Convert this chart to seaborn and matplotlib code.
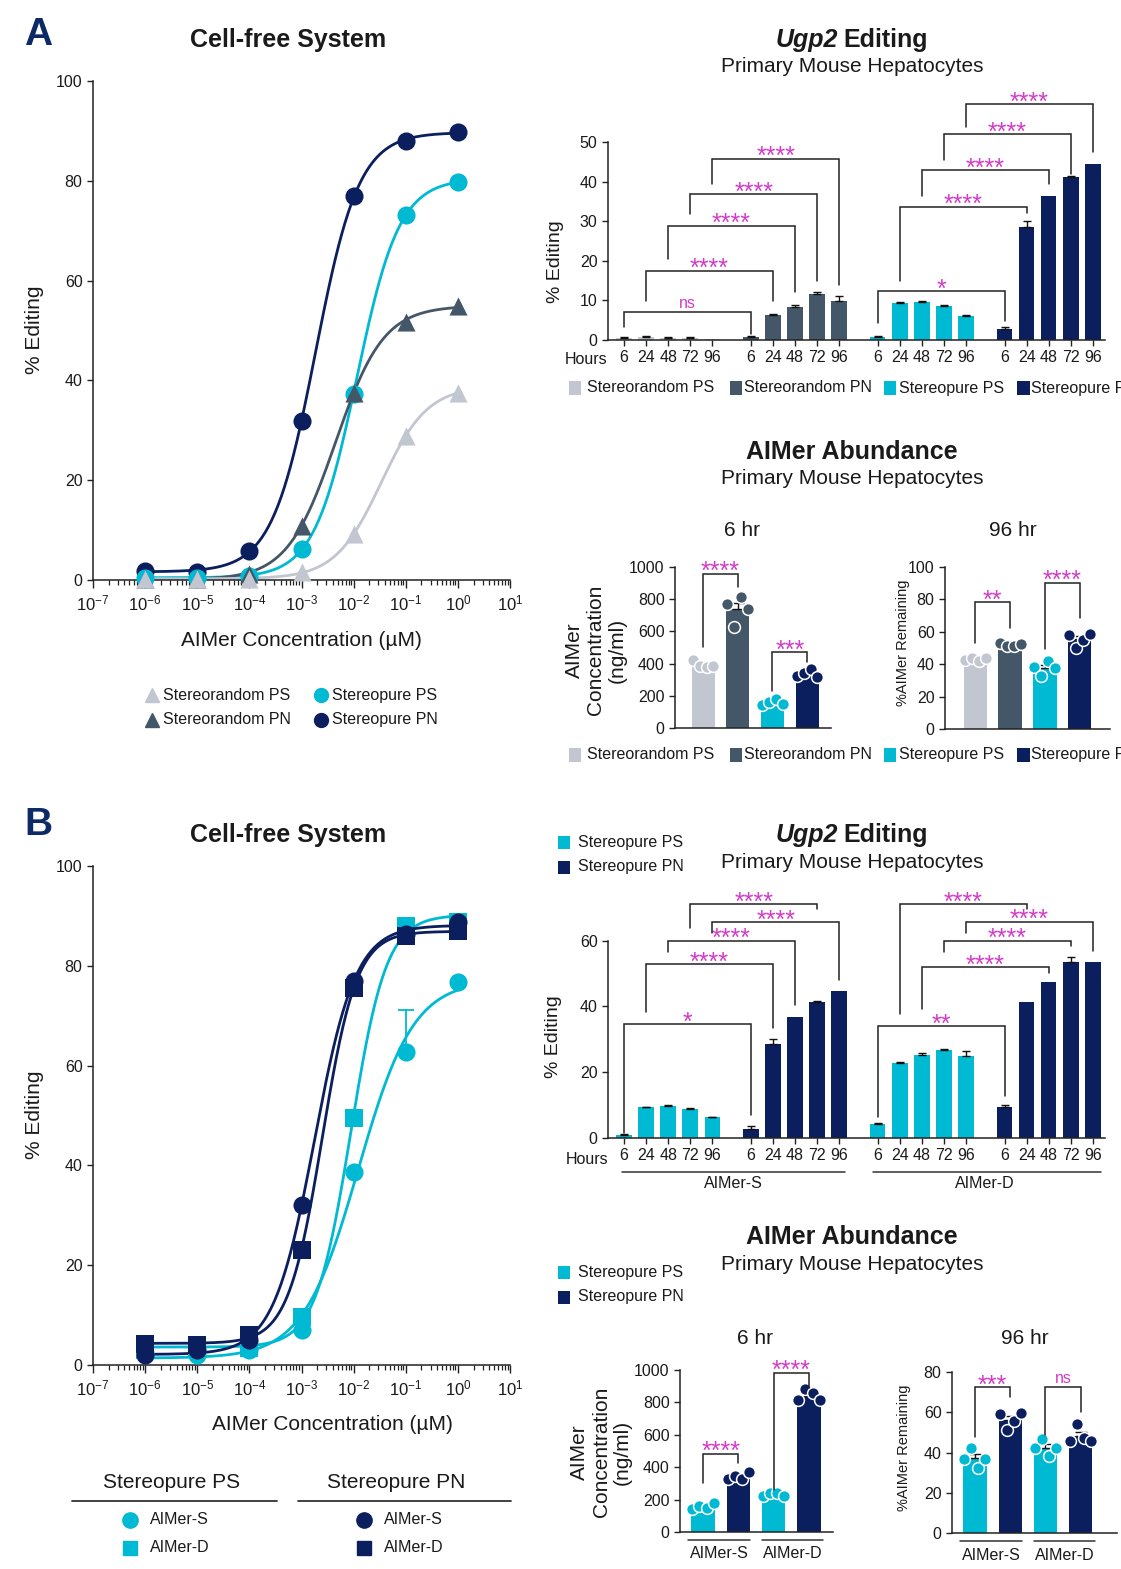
import warnings
import numpy as np
import pandas as pd
import matplotlib
matplotlib.use('Agg')
import matplotlib.pyplot as plt
import seaborn as sns
from matplotlib.lines import Line2D
from matplotlib.patches import Rectangle
from matplotlib.ticker import LogLocator, NullFormatter

warnings.filterwarnings('ignore')

# --- 1. Data ---
# Cell-free dose response (% editing), concentrations in uM
conc = [1e-6, 1e-5, 1e-4, 1e-3, 1e-2, 1e-1, 1e0]
a_sr_ps = [0.2, 0.2, 0.3, 1.6, 9.2, 28.9, 37.5]
a_sr_pn = [0.3, 0.3, 1.2, 10.9, 37.5, 51.7, 55.0]
a_sp_ps = [0.5, 0.5, 0.9, 6.2, 37.3, 73.2, 79.7]
a_sp_pn = [1.9, 1.6, 5.8, 31.9, 76.9, 87.9, 89.7]

b_ps_s = [2.5, 2.0, 3.0, 7.0, 38.6, 62.7, 76.8]
b_ps_s_err = [0, 0, 0, 0, 0, 8.4, 0]
b_ps_d = [3.0, 3.7, 3.5, 9.7, 49.5, 88.0, 88.7]
b_pn_s = [2.0, 3.0, 5.0, 32.1, 77.0, 86.3, 88.7]
b_pn_d = [4.3, 4.0, 6.0, 23.1, 75.6, 86.0, 87.0]

# Ugp2 editing time course (% editing, mean and SEM)
hours = ['6', '24', '48', '72', '96']
ugp_a_sr_ps = [0.6, 0.8, 0.6, 0.6, 0.25]
ugp_a_sr_ps_sem = [0.1, 0.1, 0.1, 0.1, 0.0]
ugp_a_sr_pn = [0.7, 6.2, 8.3, 11.7, 9.9]
ugp_a_sr_pn_sem = [0.2, 0.3, 0.5, 0.5, 1.3]
ugp_a_sp_ps = [0.85, 9.4, 9.7, 8.7, 6.1]
ugp_a_sp_ps_sem = [0.15, 0.15, 0.15, 0.15, 0.2]
ugp_a_sp_pn = [2.9, 28.6, 36.4, 41.2, 44.5]
ugp_a_sp_pn_sem = [0.5, 1.4, 0.0, 0.3, 0.0]

ugp_b_s_ps = [1.0, 9.4, 9.8, 8.9, 6.3]
ugp_b_s_ps_sem = [0.1, 0.15, 0.2, 0.2, 0.2]
ugp_b_s_pn = [2.7, 28.6, 36.7, 41.4, 44.7]
ugp_b_s_pn_sem = [0.8, 1.5, 0.0, 0.2, 0.0]
ugp_b_d_ps = [4.4, 22.8, 25.3, 26.8, 25.0]
ugp_b_d_ps_sem = [0.3, 0.4, 0.6, 0.2, 1.5]
ugp_b_d_pn = [9.4, 41.3, 47.4, 53.4, 53.4]
ugp_b_d_pn_sem = [0.7, 0.0, 0.0, 1.7, 0.0]

# AIMer abundance replicates (left to right as plotted)
ab_a_6 = {'SR PS': [425, 385, 380, 388], 'SR PN': [769, 629, 814, 740],
          'SP PS': [145, 160, 178, 148], 'SP PN': [325, 340, 365, 320]}
ab_a_96 = {'SR PS': [42.5, 44.1, 42.1, 44.1], 'SR PN': [53.0, 51.1, 51.1, 52.8],
           'SP PS': [38.0, 32.6, 42.1, 37.4], 'SP PN': [58.3, 50.3, 55.2, 58.9]}
ab_b_6 = {'S PS': [140, 162, 148, 180], 'S PN': [328, 343, 326, 368],
          'D PS': [225, 240, 240, 225], 'D PN': [812, 884, 859, 812]}
ab_b_96 = {'S PS': [36.9, 42.2, 32.5, 36.9], 'S PN': [58.9, 51.0, 55.5, 59.6],
           'D PS': [42.4, 46.5, 38.2, 42.4], 'D PN': [45.5, 54.3, 47.4, 45.5]}

# significance brackets: (x1, x2, line y, left leg end, right leg end, label)
br_ugp_a = [(0, 5.75, 7.0, 3.4, 1.6, 'ns'), (1, 6.75, 17.5, 9.9, 9.9, '****'),
            (2, 7.75, 28.9, 20.4, 12.1, '****'), (3, 8.75, 36.8, 31.8, 14.8, '****'),
            (4, 9.75, 45.8, 39.5, 13.9, '****'), (11.5, 17.25, 12.4, 4.4, 4.9, '*'),
            (12.5, 18.25, 33.7, 15.0, 32.0, '****'), (13.5, 19.25, 42.8, 36.4, 39.4, '****'),
            (14.5, 20.25, 52.0, 45.5, 41.9, '****'), (15.5, 21.25, 59.5, 53.8, 47.4, '****')]
br_ugp_b = [(0, 5.75, 34.7, 1.5, 6.9, '*'), (1, 6.75, 52.9, 38.2, 33.4, '****'),
            (2, 7.75, 60.0, 56.4, 40.3, '****'), (4, 9.75, 65.6, 62.2, 48.1, '****'),
            (3, 8.75, 71.1, 63.8, 69.5, '****'), (11.5, 17.25, 34.0, 6.3, 12.9, '**'),
            (13.5, 19.25, 52.0, 39.3, 50.1, '****'), (14.5, 20.25, 60.0, 56.5, 58.5, '****'),
            (15.5, 21.25, 65.8, 62.2, 56.9, '****'), (12.5, 18.25, 71.1, 37.7, 69.5, '****')]
br_a_6 = [(0, 1, 959, 505, 876, '****'), (2, 3, 470, 227, 412, '***')]
br_a_96 = [(0, 1, 78.4, 53.2, 62.4, '**'), (2, 3, 90.3, 49.7, 68.8, '****')]
br_b_6 = [(0, 1, 483, 302, 426, '****'), (2, 3, 983, 260, 890, '****')]
br_b_96 = [(0, 1, 72.5, 47.7, 67.5, '***'), (2, 3, 72.5, 48.5, 60.1, 'ns')]

# --- 2. Style ---
C_SRPS = '#C1C6D1'
C_SRPN = '#445768'
C_SPPS = '#00B9D3'
C_SPPN = '#0B1F5F'
MAG = '#D23CC8'
INK = '#1a1a1a'

sns.set_theme(style='ticks')
plt.rcParams['font.family'] = ['Liberation Sans', 'DejaVu Sans']
plt.rcParams['mathtext.fontset'] = 'custom'
plt.rcParams['mathtext.rm'] = 'Liberation Sans'
plt.rcParams['mathtext.it'] = 'Liberation Sans:italic'
plt.rcParams['mathtext.bf'] = 'Liberation Sans:bold'

W, H = 1121, 1569
fig = plt.figure(figsize=(W / 100, H / 100), dpi=100)


def rect(x0, yt, x1, yb):
    return [x0 / W, 1 - yb / H, (x1 - x0) / W, (yb - yt) / H]


def ftext(x, y, s, **kw):
    kw.setdefault('ha', 'center')
    kw.setdefault('va', 'center')
    kw.setdefault('color', INK)
    return fig.text(x / W, 1 - y / H, s, **kw)


def fline(x0, x1, y, lw=1.3):
    fig.add_artist(Line2D([x0 / W, x1 / W], [1 - y / H] * 2, transform=fig.transFigure,
                          color='#333333', lw=lw))


def fmarker(x, y, marker, color, ms):
    fig.add_artist(Line2D([x / W], [1 - y / H], marker=marker, ms=ms, color=color, ls='none',
                          mec=color, transform=fig.transFigure))


def fsquare(x, y, color, size=13):
    fig.add_artist(Rectangle(((x - size / 2) / W, 1 - (y + size / 2) / H), size / W, size / H,
                             transform=fig.transFigure, color=color, lw=0))


def style_axes(ax, ybound=None):
    sns.despine(ax=ax)
    for s in ['left', 'bottom']:
        ax.spines[s].set_linewidth(1.1)
        ax.spines[s].set_color('#222222')
    if ybound is not None:
        ax.spines['left'].set_bounds(*ybound)
    ax.tick_params(axis='both', colors='#222222', labelcolor=INK, labelsize=11.5,
                   length=4, width=1)
    ax.set_xlabel('')
    ax.set_ylabel('')


def bracket(ax, x1, x2, y, y1, y2, label):
    ax.plot([x1, x1, x2, x2], [y1, y, y, y2], color='#222222', lw=1.1, clip_on=False,
            solid_joinstyle='miter', zorder=5)
    if label == 'ns':
        ax.annotate(label, xy=((x1 + x2) / 2, y), xytext=(0, 3), textcoords='offset points',
                    ha='center', va='baseline', color=MAG, fontsize=11.5, annotation_clip=False)
    else:
        ax.annotate(label, xy=((x1 + x2) / 2, y), xytext=(0, -4), textcoords='offset points',
                    ha='center', va='baseline', color=MAG, fontsize=18, annotation_clip=False)


def fit_4pl(x, y):
    lx = np.log10(np.asarray(x, float))
    y = np.asarray(y, float)
    ec = np.arange(-5.0, 1.0, 0.01)[:, None, None]
    hs = np.arange(0.3, 3.0, 0.02)[None, :, None]
    s = 1.0 / (1.0 + 10 ** ((ec - lx) * hs))
    u = 1 - s
    a11 = (u * u).sum(-1)
    a12 = (u * s).sum(-1)
    a22 = (s * s).sum(-1)
    r1 = (u * y).sum(-1)
    r2 = (s * y).sum(-1)
    det = a11 * a22 - a12 ** 2
    bot = (a22 * r1 - a12 * r2) / det
    top = (a11 * r2 - a12 * r1) / det
    sse = ((y - bot[..., None] * u - top[..., None] * s) ** 2).sum(-1)
    i, j = np.unravel_index(np.nanargmin(sse), sse.shape)
    return bot[i, j], top[i, j], ec[i, 0, 0], hs[0, j, 0]


xs = np.logspace(-6, 0, 300)


def dose_panel(ax, series):
    for vals, color, marker, err in series:
        b, t, e, h = fit_4pl(conc, vals)
        ys = b + (t - b) / (1 + 10 ** ((e - np.log10(xs)) * h))
        sns.lineplot(x=xs, y=ys, color=color, lw=2, ax=ax, legend=False)
        if err is not None:
            ax.errorbar(conc, vals, yerr=[np.zeros(len(err)), err], fmt='none', ecolor=color,
                        elinewidth=1.3, capsize=6, capthick=1.3, zorder=3)
        sns.scatterplot(x=conc, y=vals, color=color, marker=marker, s=170, linewidth=0,
                        ax=ax, legend=False, clip_on=False, zorder=4)
    ax.set_xscale('log')
    ax.set_xlim(1e-7, 1e1)
    ax.set_ylim(0, 100)
    ax.set_xticks([10.0 ** k for k in range(-7, 2)])
    ax.set_xticklabels([f'$10^{{{k}}}$' for k in range(-7, 2)])
    ax.xaxis.set_minor_locator(LogLocator(base=10, subs=np.arange(2, 10), numticks=20))
    ax.xaxis.set_minor_formatter(NullFormatter())
    ax.set_yticks([0, 20, 40, 60, 80, 100])
    style_axes(ax)
    ax.tick_params(axis='x', which='major', length=6, labelsize=12, pad=4)
    ax.tick_params(axis='x', which='minor', length=3.5, width=0.9, colors='#222222')


def ugp_panel(ax, groups, brackets, ytop, ybound, yticks):
    rows = []
    for g, (vals, sems, color) in enumerate(groups):
        for i, (v, s) in enumerate(zip(vals, sems)):
            rows.append({'pos': g * 5.75 + i, 'value': v, 'sem': s, 'series': color})
    df = pd.DataFrame(rows)
    sns.barplot(data=df, x='pos', y='value', hue='series', palette={c: c for c in df['series']},
                native_scale=True, dodge=False, width=0.7, errorbar=None, saturation=1,
                linewidth=0, legend=False, ax=ax)
    e = df[df['sem'] > 0]
    ax.errorbar(e['pos'], e['value'], yerr=[np.zeros(len(e)), e['sem']], fmt='none',
                ecolor='#111111', elinewidth=1, capsize=3, capthick=1, zorder=3)
    for br in brackets:
        bracket(ax, *br)
    ax.set_xlim(-0.725, 21.8)
    ax.set_ylim(0, ytop)
    ax.set_yticks(yticks)
    ax.set_xticks(df['pos'])
    ax.set_xticklabels(hours * 4)
    style_axes(ax, ybound)
    ax.tick_params(axis='x', labelsize=11.5)


def abundance_panel(ax, reps, colors, brackets, ytop, ybound, yticks, xlim):
    order = list(reps.keys())
    df = pd.DataFrame([{'grp': k, 'val': v, 'rep': i} for k in order
                       for i, v in enumerate(reps[k])])
    pal = dict(zip(order, colors))
    sns.barplot(data=df, x='grp', y='val', hue='grp', order=order, hue_order=order, palette=pal,
                errorbar=None, width=0.66, saturation=1, linewidth=0, legend=False, ax=ax)
    stats = df.groupby('grp')['val'].agg(['mean', 'sem']).reindex(order)
    ax.errorbar(range(len(order)), stats['mean'], yerr=[np.zeros(len(order)), stats['sem']],
                fmt='none', ecolor='#111111', elinewidth=1, capsize=4, capthick=1, zorder=3)
    # replicates spread side by side within each bar
    for k in order:
        sns.stripplot(data=df[df['grp'] == k], x='grp', y='val', order=order, hue='rep',
                      palette=[pal[k]] * 4, dodge=True, jitter=False, size=8.5,
                      edgecolor='white', linewidth=1.1, legend=False, ax=ax, zorder=4)
    for br in brackets:
        bracket(ax, *br)
    ax.set_xlim(*xlim)
    ax.set_ylim(0, ytop)
    ax.set_yticks(yticks)
    ax.set_xticks([])
    style_axes(ax, ybound)


# --- 3. Panel A ---
ftext(38, 35, 'A', fontsize=28, fontweight='bold', color='#0B2A66')
ftext(288, 40, 'Cell-free System', fontsize=18, fontweight='bold')
ax = fig.add_axes(rect(93, 81, 510, 580))
dose_panel(ax, [(a_sp_pn, C_SPPN, 'o', None), (a_sp_ps, C_SPPS, 'o', None),
                (a_sr_pn, C_SRPN, '^', None), (a_sr_ps, C_SRPS, '^', None)])
ftext(35, 330, '% Editing', fontsize=15, rotation=90)
ftext(301, 641, 'AIMer Concentration (µM)', fontsize=15)
for y, lab, c, m, x in [(695, 'Stereorandom PS', C_SRPS, '^', 152), (720, 'Stereorandom PN', C_SRPN, '^', 152),
                        (695, 'Stereopure PS', C_SPPS, 'o', 321), (720, 'Stereopure PN', C_SPPN, 'o', 321)]:
    fmarker(x, y, m, c, 10)
    ftext(x + 11, y, lab, fontsize=11.5, ha='left')

ftext(838, 40, 'Ugp2', fontsize=18, fontweight='bold', fontstyle='italic', ha='right')
ftext(843, 40, 'Editing', fontsize=18, fontweight='bold', ha='left')
ftext(852, 67, 'Primary Mouse Hepatocytes', fontsize=15)
ax = fig.add_axes(rect(608, 90.5, 1105, 340))
ugp_panel(ax, [(ugp_a_sr_ps, ugp_a_sr_ps_sem, C_SRPS), (ugp_a_sr_pn, ugp_a_sr_pn_sem, C_SRPN),
               (ugp_a_sp_ps, ugp_a_sp_ps_sem, C_SPPS), (ugp_a_sp_pn, ugp_a_sp_pn_sem, C_SPPN)],
          br_ugp_a, 63, (0, 50), [0, 10, 20, 30, 40, 50])
ftext(556, 262, '% Editing', fontsize=14, rotation=90)
ftext(586, 360, 'Hours', fontsize=11.5)

legend4 = [(575, 587, 'Stereorandom PS', C_SRPS), (736, 744, 'Stereorandom PN', C_SRPN),
           (890, 899, 'Stereopure PS', C_SPPS), (1023, 1031, 'Stereopure PN', C_SPPN)]
for yl in (388, 755):
    for xs_, xt, lab, c in legend4:
        fsquare(xs_, yl, c)
        ftext(xt, yl, lab, fontsize=11.5, ha='left')

ftext(852, 452, 'AIMer Abundance', fontsize=18, fontweight='bold')
ftext(852, 478, 'Primary Mouse Hepatocytes', fontsize=15)
ftext(742, 531, '6 hr', fontsize=15)
ftext(1013, 531, '96 hr', fontsize=15)
ax = fig.add_axes(rect(675, 551, 831, 728))
abundance_panel(ax, ab_a_6, [C_SRPS, C_SRPN, C_SPPS, C_SPPN], br_a_6, 1100, (0, 1000),
                [0, 200, 400, 600, 800, 1000], (-0.81, 3.69))
ftext(596, 650, 'AIMer\nConcentration\n(ng/ml)', fontsize=15, rotation=90, linespacing=1.15,
      multialignment='center')
ax = fig.add_axes(rect(945, 559, 1110, 729))
abundance_panel(ax, ab_a_96, [C_SRPS, C_SRPN, C_SPPS, C_SPPN], br_a_96, 105, (0, 100),
                [0, 20, 40, 60, 80, 100], (-0.86, 3.86))
ftext(903, 643, '%AIMer Remaining', fontsize=10.5, rotation=90)

# --- 4. Panel B ---
ftext(38, 825, 'B', fontsize=28, fontweight='bold', color='#0B2A66')
ftext(288, 835, 'Cell-free System', fontsize=18, fontweight='bold')
ax = fig.add_axes(rect(93, 866, 510, 1365))
dose_panel(ax, [(b_ps_s, C_SPPS, 'o', b_ps_s_err), (b_ps_d, C_SPPS, 's', None),
                (b_pn_s, C_SPPN, 'o', None), (b_pn_d, C_SPPN, 's', None)])
ftext(35, 1115, '% Editing', fontsize=15, rotation=90)
ftext(332, 1425, 'AIMer Concentration (µM)', fontsize=15)
ftext(172, 1483, 'Stereopure PS', fontsize=15)
ftext(396, 1483, 'Stereopure PN', fontsize=15)
fline(72, 277, 1501)
fline(298, 511, 1501)
for x, c in [(130, C_SPPS), (364, C_SPPN)]:
    fmarker(x, 1520, 'o', c, 11)
    fmarker(x, 1548, 's', c, 10)
    ftext(x + 20, 1520, 'AIMer-S', fontsize=11.5, ha='left')
    ftext(x + 20, 1548, 'AIMer-D', fontsize=11.5, ha='left')

ftext(838, 835, 'Ugp2', fontsize=18, fontweight='bold', fontstyle='italic', ha='right')
ftext(843, 835, 'Editing', fontsize=18, fontweight='bold', ha='left')
ftext(852, 862, 'Primary Mouse Hepatocytes', fontsize=15)
for yl, lab, c in [(842, 'Stereopure PS', C_SPPS), (867, 'Stereopure PN', C_SPPN),
                   (1272, 'Stereopure PS', C_SPPS), (1297, 'Stereopure PN', C_SPPN)]:
    fsquare(564, yl, c)
    ftext(578, yl, lab, fontsize=11.5, ha='left')
ax = fig.add_axes(rect(608, 888, 1105, 1138))
ugp_panel(ax, [(ugp_b_s_ps, ugp_b_s_ps_sem, C_SPPS), (ugp_b_s_pn, ugp_b_s_pn_sem, C_SPPN),
               (ugp_b_d_ps, ugp_b_d_ps_sem, C_SPPS), (ugp_b_d_pn, ugp_b_d_pn_sem, C_SPPN)],
          br_ugp_b, 76, (0, 60), [0, 20, 40, 60])
ftext(553, 1037, '% Editing', fontsize=14, rotation=90)
ftext(587, 1159, 'Hours', fontsize=11.5)
fline(622, 845, 1172, lw=1.1)
fline(873, 1101, 1172, lw=1.1)
ftext(733, 1184, 'AIMer-S', fontsize=11.5)
ftext(985, 1184, 'AIMer-D', fontsize=11.5)

ftext(852, 1237, 'AIMer Abundance', fontsize=18, fontweight='bold')
ftext(852, 1264, 'Primary Mouse Hepatocytes', fontsize=15)
ftext(755, 1338, '6 hr', fontsize=15)
ftext(1025, 1338, '96 hr', fontsize=15)
ax = fig.add_axes(rect(680, 1357, 833, 1532))
abundance_panel(ax, ab_b_6, [C_SPPS, C_SPPN, C_SPPS, C_SPPN], br_b_6, 1080, (0, 1000),
                [0, 200, 400, 600, 800, 1000], (-0.65, 3.68))
ftext(601, 1452, 'AIMer\nConcentration\n(ng/ml)', fontsize=15, rotation=90, linespacing=1.15,
      multialignment='center')
fline(688, 750, 1540, lw=1.1)
fline(762, 823, 1540, lw=1.1)
ftext(719, 1554, 'AIMer-S', fontsize=11.5)
ftext(793, 1554, 'AIMer-D', fontsize=11.5)
ax = fig.add_axes(rect(952, 1364, 1117, 1533))
abundance_panel(ax, ab_b_96, [C_SPPS, C_SPPN, C_SPPS, C_SPPN], br_b_96, 84, (0, 80),
                [0, 20, 40, 60, 80], (-0.65, 4.03))
ftext(904, 1448, '%AIMer Remaining', fontsize=10.5, rotation=90)
fline(960, 1022, 1541, lw=1.1)
fline(1034, 1095, 1541, lw=1.1)
ftext(991, 1555, 'AIMer-S', fontsize=11.5)
ftext(1065, 1555, 'AIMer-D', fontsize=11.5)

fig.savefig('out.png', dpi=100)
print('saved out.png')
